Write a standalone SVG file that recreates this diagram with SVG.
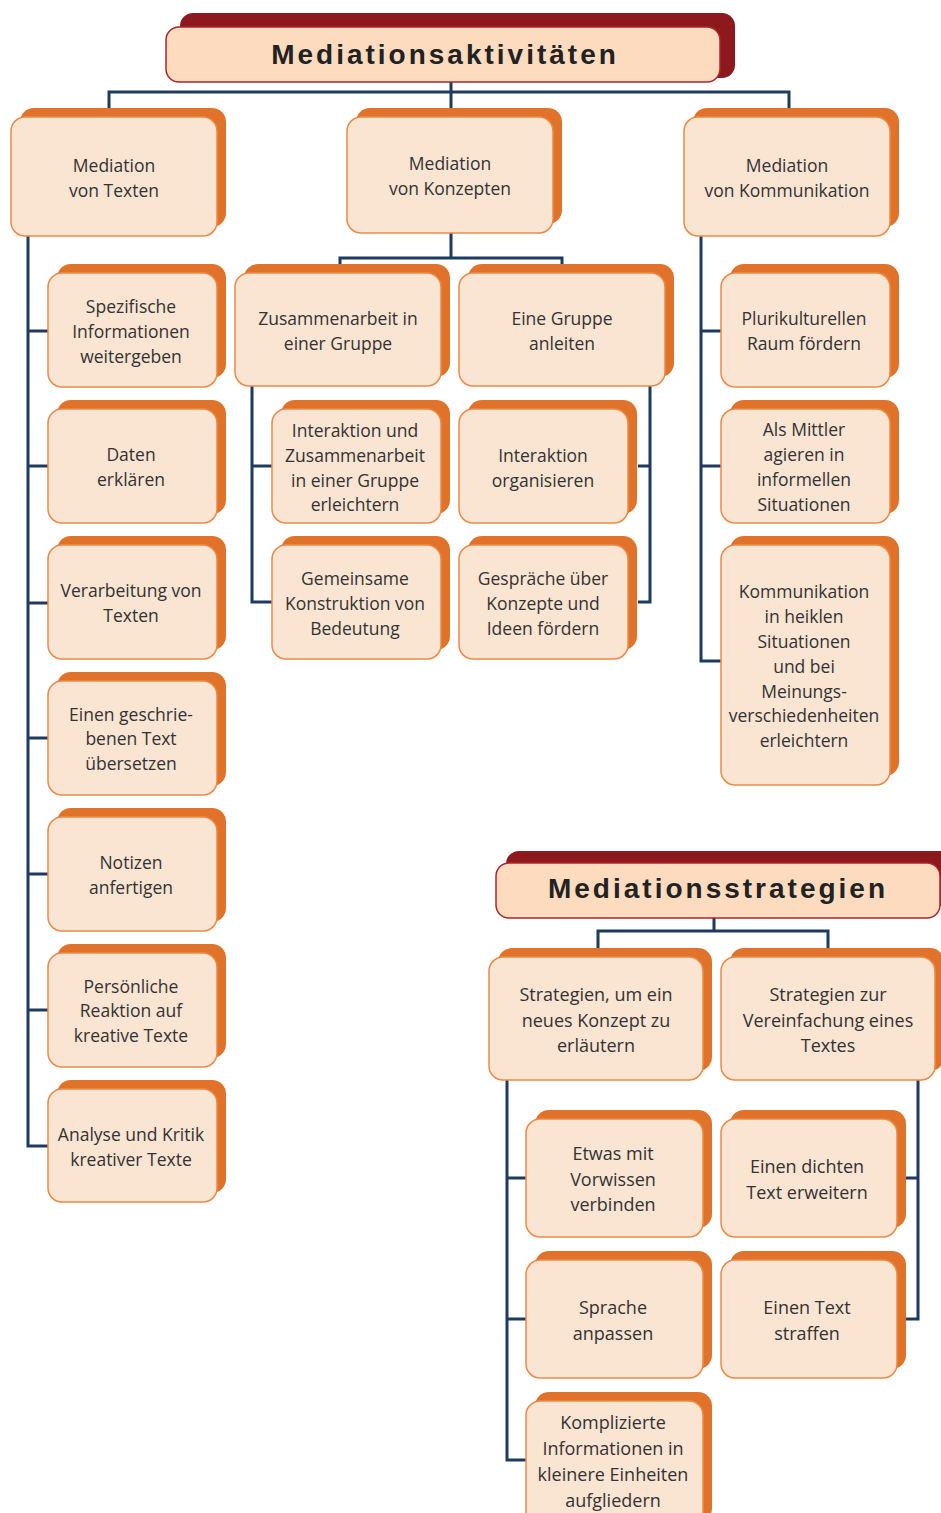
<svg xmlns="http://www.w3.org/2000/svg" width="941" height="1513" viewBox="0 0 941 1513">
<style>
.bk{fill:#e0722a}
.fr{fill:#fae4d2;stroke:#ea8a48;stroke-width:1.5}
.tbk{fill:#8d181e}
.tfr{fill:#fddbbe;stroke:#a8282c;stroke-width:1.5}
.t{font-family:"Open Sans","Noto Sans",sans-serif;font-size:17.5px;fill:#333;text-anchor:middle;transform:translateY(1px)}
.s{font-size:18px}
.h{font-family:"Liberation Sans",Arial,sans-serif;font-size:28px;font-weight:bold;letter-spacing:3px;fill:#222;text-anchor:middle}
.c{fill:none;stroke:#1c3b5e;stroke-width:3}
</style>
<rect width="941" height="1513" fill="#fff"/>
<g id="connectors">
<path class="c" d="M451,82V117M109,117V92H789V117"/>
<path class="c" d="M28,236V1146H48M28,331H48M28,466H48M28,603H48M28,738H48M28,874H48M28,1010H48"/>
<path class="c" d="M451,233V258M340,273V258H562V273"/>
<path class="c" d="M252,386V602H272M252,466H272"/>
<path class="c" d="M650,386V602H638M650,466H638"/>
<path class="c" d="M701,236V661H721M701,331H721M701,466H721"/>
<path class="c" d="M714,918V931M598,957V931H828V957"/>
<path class="c" d="M507,1080V1460H526M507,1178H526M507,1319H526"/>
<path class="c" d="M918,1080V1319H906M918,1178H906"/>
</g>
<g id="title1">
<rect class="tbk" x="180" y="13" width="555" height="65" rx="13"/>
<rect class="tfr" x="166" y="27" width="554" height="55" rx="13"/>
<text class="h" x="445" y="64">Mediationsaktivitäten</text>
</g>
<g id="n-texte">
<rect class="bk" x="20" y="108" width="206" height="119" rx="14"/>
<rect class="fr" x="11" y="117" width="206" height="119" rx="14"/>
<text class="t" x="114" y="171">Mediation</text><text class="t" x="114" y="196">von Texten</text>
</g>
<g id="n-konzepte">
<rect class="bk" x="356" y="108" width="206" height="116" rx="14"/>
<rect class="fr" x="347" y="117" width="206" height="116" rx="14"/>
<text class="t" x="450" y="169">Mediation</text><text class="t" x="450" y="194">von Konzepten</text>
</g>
<g id="n-komm">
<rect class="bk" x="693" y="108" width="206" height="119" rx="14"/>
<rect class="fr" x="684" y="117" width="206" height="119" rx="14"/>
<text class="t" x="787" y="171">Mediation</text><text class="t" x="787" y="196">von Kommunikation</text>
</g>
<g id="n-spez">
<rect class="bk" x="57" y="264" width="169" height="114" rx="14"/>
<rect class="fr" x="48" y="273" width="169" height="114" rx="14"/>
<text class="t" x="131" y="312">Spezifische</text><text class="t" x="131" y="337">Informationen</text><text class="t" x="131" y="362">weitergeben</text>
</g>
<g id="n-daten">
<rect class="bk" x="57" y="400" width="169" height="114" rx="14"/>
<rect class="fr" x="48" y="409" width="169" height="114" rx="14"/>
<text class="t" x="131" y="460">Daten</text><text class="t" x="131" y="485">erklären</text>
</g>
<g id="n-verarb">
<rect class="bk" x="57" y="536" width="169" height="114" rx="14"/>
<rect class="fr" x="48" y="545" width="169" height="114" rx="14"/>
<text class="t" x="131" y="596">Verarbeitung von</text><text class="t" x="131" y="621">Texten</text>
</g>
<g id="n-uebers">
<rect class="bk" x="57" y="672" width="169" height="114" rx="14"/>
<rect class="fr" x="48" y="681" width="169" height="114" rx="14"/>
<text class="t" x="131" y="720">Einen geschrie-</text><text class="t" x="131" y="744">benen Text</text><text class="t" x="131" y="769">übersetzen</text>
</g>
<g id="n-notiz">
<rect class="bk" x="57" y="808" width="169" height="114" rx="14"/>
<rect class="fr" x="48" y="817" width="169" height="114" rx="14"/>
<text class="t" x="131" y="868">Notizen</text><text class="t" x="131" y="893">anfertigen</text>
</g>
<g id="n-pers">
<rect class="bk" x="57" y="944" width="169" height="114" rx="14"/>
<rect class="fr" x="48" y="953" width="169" height="114" rx="14"/>
<text class="t" x="131" y="992">Persönliche</text><text class="t" x="131" y="1016">Reaktion auf</text><text class="t" x="131" y="1041">kreative Texte</text>
</g>
<g id="n-analyse">
<rect class="bk" x="57" y="1080" width="169" height="113" rx="14"/>
<rect class="fr" x="48" y="1089" width="169" height="113" rx="14"/>
<text class="t" x="131" y="1140">Analyse und Kritik</text><text class="t" x="131" y="1165">kreativer Texte</text>
</g>
<g id="n-zus">
<rect class="bk" x="244" y="264" width="206" height="113" rx="14"/>
<rect class="fr" x="235" y="273" width="206" height="113" rx="14"/>
<text class="t" x="338" y="324">Zusammenarbeit in</text><text class="t" x="338" y="349">einer Gruppe</text>
</g>
<g id="n-gruppe">
<rect class="bk" x="468" y="264" width="206" height="113" rx="14"/>
<rect class="fr" x="459" y="273" width="206" height="113" rx="14"/>
<text class="t" x="562" y="324">Eine Gruppe</text><text class="t" x="562" y="349">anleiten</text>
</g>
<g id="n-interakt">
<rect class="bk" x="281" y="400" width="169" height="114" rx="14"/>
<rect class="fr" x="272" y="409" width="169" height="114" rx="14"/>
<text class="t" x="355" y="436">Interaktion und</text><text class="t" x="355" y="461">Zusammenarbeit</text><text class="t" x="355" y="486">in einer Gruppe</text><text class="t" x="355" y="510">erleichtern</text>
</g>
<g id="n-gemein">
<rect class="bk" x="281" y="536" width="169" height="114" rx="14"/>
<rect class="fr" x="272" y="545" width="169" height="114" rx="14"/>
<text class="t" x="355" y="584">Gemeinsame</text><text class="t" x="355" y="609">Konstruktion von</text><text class="t" x="355" y="634">Bedeutung</text>
</g>
<g id="n-org">
<rect class="bk" x="468" y="400" width="169" height="114" rx="14"/>
<rect class="fr" x="459" y="409" width="169" height="114" rx="14"/>
<text class="t" x="543" y="461">Interaktion</text><text class="t" x="543" y="486">organisieren</text>
</g>
<g id="n-gespr">
<rect class="bk" x="468" y="536" width="169" height="114" rx="14"/>
<rect class="fr" x="459" y="545" width="169" height="114" rx="14"/>
<text class="t" x="543" y="584">Gespräche über</text><text class="t" x="543" y="609">Konzepte und</text><text class="t" x="543" y="634">Ideen fördern</text>
</g>
<g id="n-pluri">
<rect class="bk" x="730" y="264" width="169" height="114" rx="14"/>
<rect class="fr" x="721" y="273" width="169" height="114" rx="14"/>
<text class="t" x="804" y="324">Plurikulturellen</text><text class="t" x="804" y="349">Raum fördern</text>
</g>
<g id="n-mittler">
<rect class="bk" x="730" y="400" width="169" height="114" rx="14"/>
<rect class="fr" x="721" y="409" width="169" height="114" rx="14"/>
<text class="t" x="804" y="435">Als Mittler</text><text class="t" x="804" y="460">agieren in</text><text class="t" x="804" y="485">informellen</text><text class="t" x="804" y="510">Situationen</text>
</g>
<g id="n-heikel">
<rect class="bk" x="730" y="536" width="169" height="240" rx="14"/>
<rect class="fr" x="721" y="545" width="169" height="240" rx="14"/>
<text class="t" x="804" y="597">Kommunikation</text><text class="t" x="804" y="622">in heiklen</text><text class="t" x="804" y="647">Situationen</text><text class="t" x="804" y="672">und bei</text><text class="t" x="804" y="697">Meinungs-</text><text class="t" x="804" y="721">verschiedenheiten</text><text class="t" x="804" y="746">erleichtern</text>
</g>
<g id="title2">
<rect class="tbk" x="506" y="851" width="450" height="55" rx="13"/>
<rect class="tfr" x="496" y="863" width="444" height="55" rx="13"/>
<text class="h" x="718" y="898">Mediationsstrategien</text>
</g>
<g id="n-strat1">
<rect class="bk" x="498" y="948" width="214" height="123" rx="14"/>
<rect class="fr" x="489" y="957" width="214" height="123" rx="14"/>
<text class="t s" x="596" y="1000">Strategien, um ein</text><text class="t s" x="596" y="1026">neues Konzept zu</text><text class="t s" x="596" y="1051">erläutern</text>
</g>
<g id="n-strat2">
<rect class="bk" x="730" y="948" width="214" height="123" rx="14"/>
<rect class="fr" x="721" y="957" width="214" height="123" rx="14"/>
<text class="t s" x="828" y="1000">Strategien zur</text><text class="t s" x="828" y="1026">Vereinfachung eines</text><text class="t s" x="828" y="1051">Textes</text>
</g>
<g id="n-vorw">
<rect class="bk" x="535" y="1110" width="177" height="118" rx="14"/>
<rect class="fr" x="526" y="1119" width="177" height="118" rx="14"/>
<text class="t s" x="613" y="1159">Etwas mit</text><text class="t s" x="613" y="1185">Vorwissen</text><text class="t s" x="613" y="1210">verbinden</text>
</g>
<g id="n-sprache">
<rect class="bk" x="535" y="1251" width="177" height="118" rx="14"/>
<rect class="fr" x="526" y="1260" width="177" height="118" rx="14"/>
<text class="t s" x="613" y="1313">Sprache</text><text class="t s" x="613" y="1339">anpassen</text>
</g>
<g id="n-kompl">
<rect class="bk" x="535" y="1392" width="177" height="130" rx="14"/>
<rect class="fr" x="526" y="1401" width="177" height="130" rx="14"/>
<text class="t s" x="613" y="1428">Komplizierte</text><text class="t s" x="613" y="1454">Informationen in</text><text class="t s" x="613" y="1480">kleinere Einheiten</text><text class="t s" x="613" y="1506">aufgliedern</text>
</g>
<g id="n-dicht">
<rect class="bk" x="730" y="1110" width="176" height="118" rx="14"/>
<rect class="fr" x="721" y="1119" width="176" height="118" rx="14"/>
<text class="t s" x="807" y="1172">Einen dichten</text><text class="t s" x="807" y="1198">Text erweitern</text>
</g>
<g id="n-straff">
<rect class="bk" x="730" y="1251" width="176" height="118" rx="14"/>
<rect class="fr" x="721" y="1260" width="176" height="118" rx="14"/>
<text class="t s" x="807" y="1313">Einen Text</text><text class="t s" x="807" y="1339">straffen</text>
</g>
</svg>
